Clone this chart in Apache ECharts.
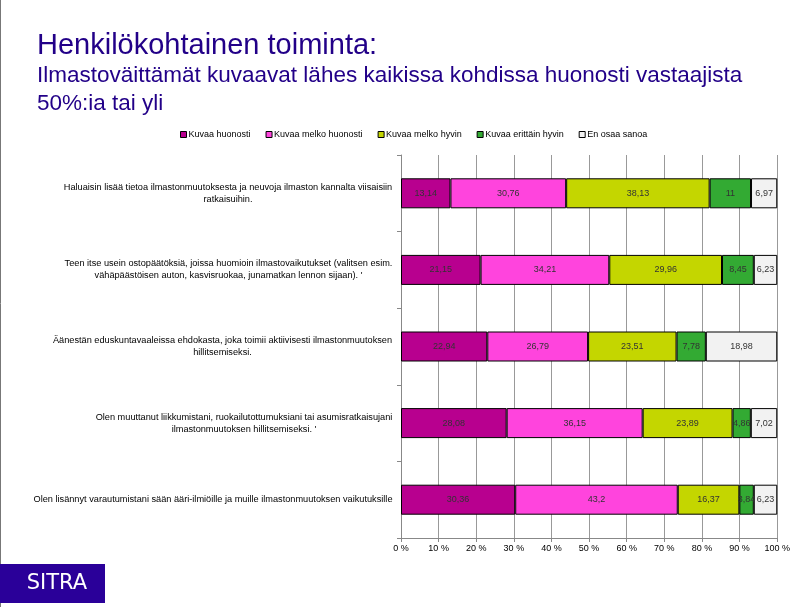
<!DOCTYPE html>
<html><head><meta charset="utf-8">
<script src="https://cdn.jsdelivr.net/npm/echarts@6/dist/echarts.min.js"></script>
<style>html,body{margin:0;padding:0;background:#fff}#c{width:793px;height:607px}</style>
</head><body><div id="c"></div>
<script>
const categories = [
  'Haluaisin lisää tietoa ilmastonmuutoksesta ja neuvoja ilmaston kannalta viisaisiin\nratkaisuihin.',
  'Teen itse usein ostopäätöksiä, joissa huomioin ilmastovaikutukset (valitsen esim.\nvähäpäästöisen auton, kasvisruokaa, junamatkan lennon sijaan). \'',
  'Äänestän eduskuntavaaleissa ehdokasta, joka toimii aktiivisesti ilmastonmuutoksen\nhillitsemiseksi.',
  'Olen muuttanut liikkumistani, ruokailutottumuksiani tai asumisratkaisujani\nilmastonmuutoksen hillitsemiseksi. \'',
  'Olen lisännyt varautumistani sään ääri-ilmiöille ja muille ilmastonmuutoksen vaikutuksille'
];
const seriesNames = ['Kuvaa huonosti','Kuvaa melko huonosti','Kuvaa melko hyvin','Kuvaa erittäin hyvin','En osaa sanoa'];
const kuvaaHuonosti      = [13.14, 21.15, 22.94, 28.08, 30.36];
const kuvaaMelkoHuonosti = [30.76, 34.21, 26.79, 36.15, 43.2];
const kuvaaMelkoHyvin    = [38.13, 29.96, 23.51, 23.89, 16.37];
const kuvaaErittainHyvin = [11, 8.45, 7.78, 4.86, 3.84];
const enOsaaSanoa        = [6.97, 6.23, 18.98, 7.02, 6.23];
const tickValues = [0,10,20,30,40,50,60,70,80,90,100];

const seriesData = [kuvaaHuonosti, kuvaaMelkoHuonosti, kuvaaMelkoHyvin, kuvaaErittainHyvin, enOsaaSanoa];
const colors = ['#B8008F','#FF44DD','#C4D600','#33AA33','#F2F2F2'];

const FF = '"Liberation Sans", Arial, sans-serif';
const catFontSize = 9.2;
const ctx = document.createElement('canvas').getContext('2d');
ctx.font = catFontSize + 'px ' + FF;
const rich = {};
categories.forEach((c, i) => {
  const w = Math.max(...c.split('\n').map(l => ctx.measureText(l).width));
  rich['r' + i] = {width: Math.ceil(w) + 1, align: 'center', fontSize: catFontSize, fontFamily: FF, color: '#000', lineHeight: 12};
});

const chart = echarts.init(document.getElementById('c'), null, {renderer: 'canvas'});
chart.setOption({
  animation: false,
  backgroundColor: '#fff',
  title: [
    {text: 'Henkilökohtainen toiminta:', left: 32, top: 26,
     textStyle: {fontFamily: FF, fontSize: 29, fontWeight: 'normal', color: '#220088'}},
    {text: 'Ilmastoväittämät kuvaavat lähes kaikissa kohdissa huonosti vastaajista\n50%:ia tai yli', left: 32, top: 57,
     textStyle: {fontFamily: FF, fontSize: 22.5, fontWeight: 'normal', color: '#220088', lineHeight: 28}}
  ],
  legend: {
    data: seriesNames, left: 175, top: 125, itemWidth: 6, itemHeight: 6, itemGap: 15,
    icon: 'rect',
    itemStyle: {borderColor: '#000', borderWidth: 1},
    textStyle: {fontSize: 9, fontFamily: FF, color: '#000', padding: [0,0,0,-3]}
  },
  grid: {left: 401, right: 10, top: 155, bottom: 69, containLabel: false},
  xAxis: {
    type: 'value', min: 0, max: 100, interval: 10,
    axisLine: {show: true, lineStyle: {color: '#888'}},
    axisTick: {show: true, length: 4, lineStyle: {color: '#888'}},
    splitLine: {show: true, lineStyle: {color: '#999', width: 1}},
    axisLabel: {formatter: v => v + ' %', fontSize: 9, color: '#000', margin: 6, fontFamily: FF}
  },
  yAxis: {
    type: 'category', data: categories, inverse: true,
    axisLine: {show: true, lineStyle: {color: '#888'}},
    axisTick: {show: true, length: 4, lineStyle: {color: '#888'}},
    axisLabel: {
      margin: 8, align: 'right',
      formatter: (v, i) => v.split('\n').map(l => '{r' + i + '|' + l + '}').join('\n'),
      rich: rich
    }
  },
  series: seriesData.map((d, k) => ({
    name: seriesNames[k], type: 'bar', stack: 'total', barWidth: 30, data: d,
    itemStyle: {color: colors[k], borderColor: '#000', borderWidth: 1},
    label: {show: true, position: 'inside', fontSize: 9, color: '#333', fontFamily: FF,
            formatter: p => String(p.value).replace('.', ',')}
  })),
  graphic: [
    {type: 'line', shape: {x1: 0.5, y1: 0, x2: 0.5, y2: 607}, style: {stroke: '#777', lineWidth: 1}},
    {type: 'rect', shape: {x: 0, y: 564, width: 105, height: 39}, style: {fill: '#2A0099'}},
    {type: 'text', x: 57, y: 584, style: {text: 'SITRA', fill: '#fff', font: '21px "DejaVu Sans", sans-serif', textAlign: 'center', textVerticalAlign: 'middle'}}
  ]
});
</script></body></html>
